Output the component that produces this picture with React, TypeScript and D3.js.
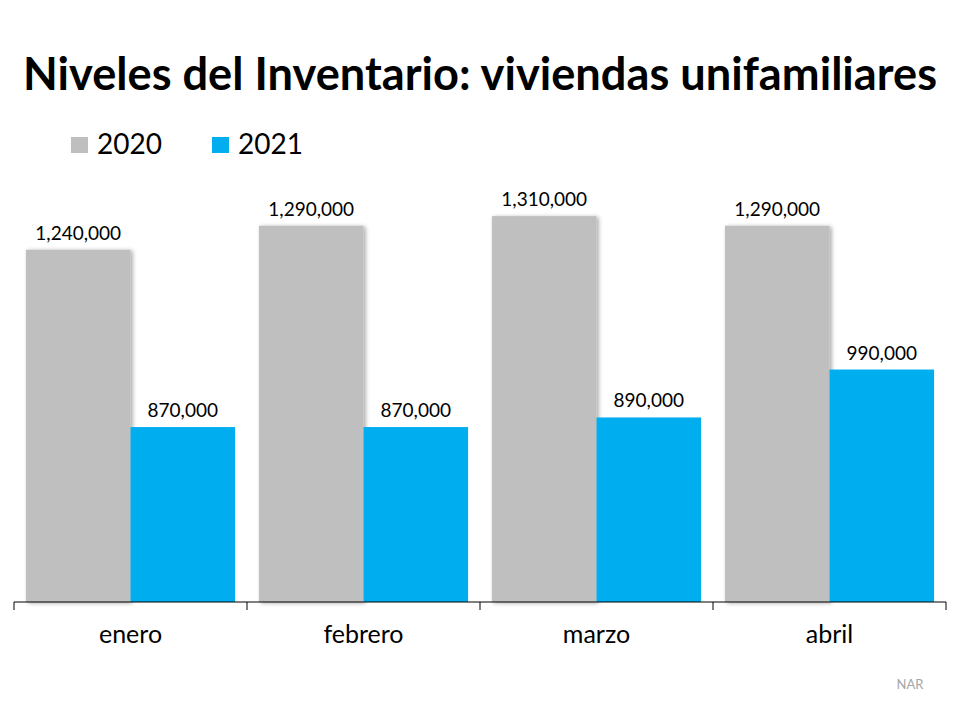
import React, { useRef, useEffect } from 'react';
import * as d3 from 'd3';

const months = ['enero', 'febrero', 'marzo', 'abril'];
const values2020 = [1240000, 1290000, 1310000, 1290000];
const values2021 = [870000, 870000, 890000, 990000];
const seriesNames = ['2020', '2021'];
const seriesColors = ['#bfbfbf', '#00adef'];

const W = 960;
const H = 720;
const FONT = "Lato, 'Open Sans', 'Liberation Sans', sans-serif";

const App: React.FC = () => {
  const ref = useRef<SVGSVGElement | null>(null);

  useEffect(() => {
    if (!ref.current) return;
    const svg = d3.select(ref.current);
    svg.selectAll('*').remove();

    const left = 14;
    const right = 946;
    const baseline = 602;

    const x = d3.scaleBand<string>().domain(months).range([left, right]).paddingInner(0).paddingOuter(0);
    const inner = d3.scaleBand<string>().domain(seriesNames).range([0, x.bandwidth()]).paddingOuter(0.114).paddingInner(0);
    const y = d3.scaleLinear().domain([505000, 1400000]).range([baseline, 173]);

    const defs = svg.append('defs');
    const f = defs.append('filter').attr('id', 'shadow').attr('x', '-10%').attr('y', '-10%').attr('width', '130%').attr('height', '130%');
    f.append('feDropShadow').attr('dx', 2).attr('dy', 1).attr('stdDeviation', 2).attr('flood-color', '#000').attr('flood-opacity', 0.35);

    // title
    svg.append('text')
      .attr('x', W / 2).attr('y', 90)
      .attr('text-anchor', 'middle')
      .attr('font-family', FONT).attr('font-weight', 'bold').attr('font-size', 45)
      .attr('textLength', 914).attr('lengthAdjust', 'spacingAndGlyphs')
      .text('Niveles del Inventario: viviendas unifamiliares');

    // legend
    const legendX = [71, 212];
    seriesNames.forEach((s, i) => {
      svg.append('rect').attr('x', legendX[i]).attr('y', 137).attr('width', 17).attr('height', 16).attr('fill', seriesColors[i]);
      svg.append('text').attr('x', legendX[i] + 26).attr('y', 154)
        .attr('font-family', FONT).attr('font-size', 28).attr('fill', '#000').text(s);
    });

    const data = months.map((m, i) => ({ month: m, vals: [values2020[i], values2021[i]] }));

    const groups = svg.append('g').selectAll('g').data(data).enter().append('g')
      .attr('transform', (d) => `translate(${x(d.month)},0)`);

    groups.selectAll('rect').data((d) => d.vals.map((v, i) => ({ v, s: seriesNames[i], i }))).enter()
      .append('rect')
      .attr('x', (d) => inner(d.s) as number)
      .attr('y', (d) => y(d.v))
      .attr('width', inner.bandwidth())
      .attr('height', (d) => baseline - y(d.v))
      .attr('fill', (d) => seriesColors[d.i])
      .attr('filter', (d) => (d.i === 0 ? 'url(#shadow)' : null));

    groups.selectAll('text.val').data((d) => d.vals.map((v, i) => ({ v, s: seriesNames[i] }))).enter()
      .append('text')
      .attr('class', 'val')
      .attr('x', (d) => (inner(d.s) as number) + inner.bandwidth() / 2)
      .attr('y', (d) => y(d.v) - 10)
      .attr('text-anchor', 'middle')
      .attr('font-family', FONT).attr('font-size', 19).attr('fill', '#000')
      .text((d) => d3.format(',')(d.v));

    // axis
    const axisG = svg.append('g');
    axisG.append('line').attr('x1', left).attr('x2', right).attr('y1', baseline).attr('y2', baseline)
      .attr('stroke', '#000').attr('stroke-width', 1);
    const tickPos = months.map((m) => x(m) as number).concat([right]);
    axisG.selectAll('line.tick').data(tickPos).enter().append('line')
      .attr('class', 'tick')
      .attr('x1', (d) => d).attr('x2', (d) => d)
      .attr('y1', baseline).attr('y2', baseline + 8)
      .attr('stroke', '#000');
    axisG.selectAll('text').data(months).enter().append('text')
      .attr('x', (d) => (x(d) as number) + x.bandwidth() / 2)
      .attr('y', 643)
      .attr('text-anchor', 'middle')
      .attr('font-family', FONT).attr('font-size', 25).attr('fill', '#000')
      .text((d) => d);

    svg.append('text').attr('x', 910).attr('y', 689).attr('text-anchor', 'middle')
      .attr('font-family', FONT).attr('font-size', 13).attr('fill', '#a6a6a6').text('NAR');
  }, []);

  return (
    <svg ref={ref} width={W} height={H} viewBox={`0 0 ${W} ${H}`}
      style={{ display: 'block', position: 'absolute', left: 0, top: 0, background: '#fff' }} />
  );
};

export default App;
